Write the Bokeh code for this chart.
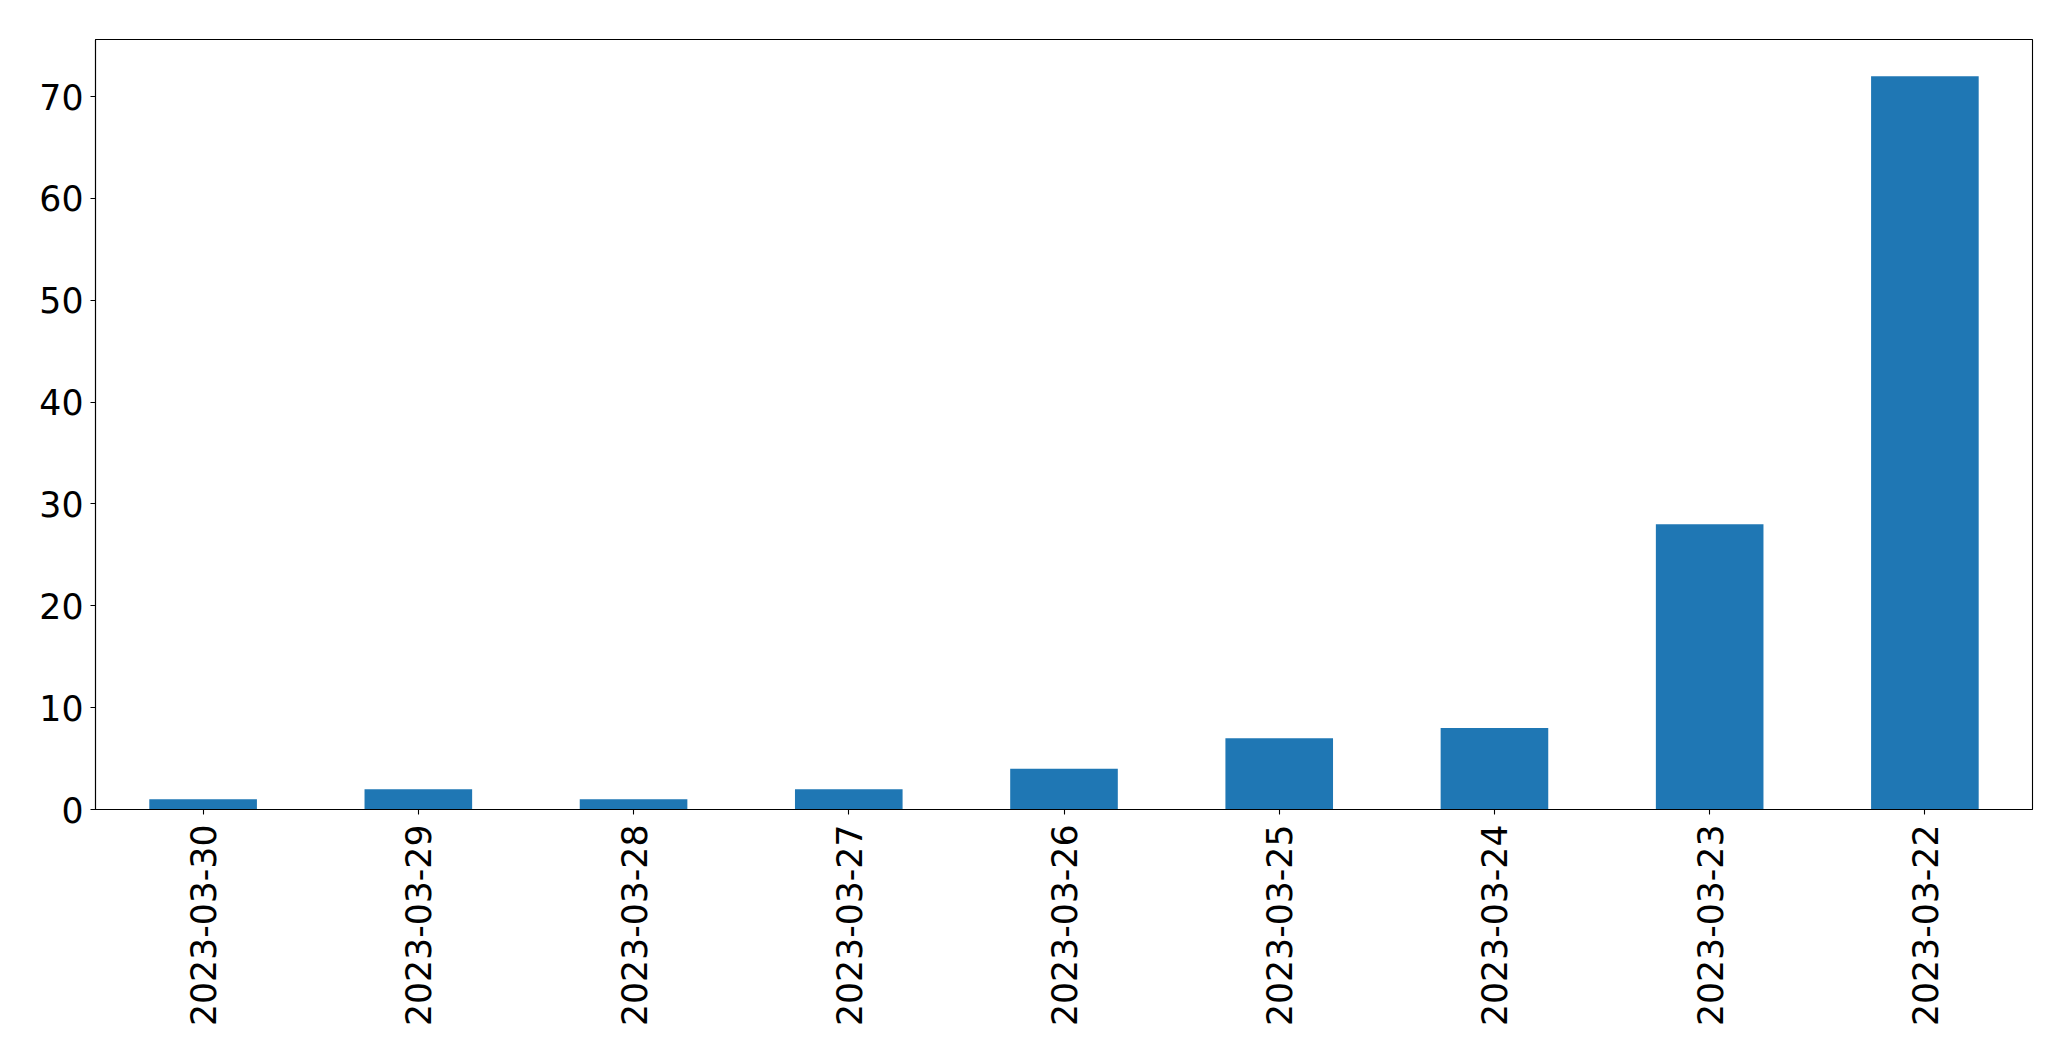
import math
from bokeh.plotting import figure
from bokeh.models import FixedTicker, Range1d, FactorRange, ColumnDataSource
from bokeh.embed import file_html
from bokeh.resources import INLINE

dates = ["2023-03-30", "2023-03-29", "2023-03-28", "2023-03-27", "2023-03-26",
         "2023-03-25", "2023-03-24", "2023-03-23", "2023-03-22"]
counts = [1, 2, 1, 2, 4, 7, 8, 28, 72]
y_ticks = [0, 10, 20, 30, 40, 50, 60, 70]

source = ColumnDataSource(data=dict(date=dates, count=counts))

p = figure(x_range=FactorRange(factors=dates, range_padding=0),
           y_range=Range1d(0, max(counts) * 1.05),
           frame_width=1937, frame_height=770,
           min_border_left=95, min_border_top=39, min_border_bottom=230,
           min_border_right=20,
           output_backend="svg", toolbar_location=None,
           background_fill_color="white", border_fill_color="white")

p.vbar(x="date", top="count", width=0.5, source=source,
       fill_color="#1f77b4", line_color=None)

p.xgrid.visible = False
p.ygrid.visible = False
p.outline_line_color = "black"
p.outline_line_width = 1.1

for ax in (p.xaxis[0], p.yaxis[0]):
    ax.axis_line_color = "black"
    ax.axis_line_width = 1.1
    ax.major_tick_line_color = "black"
    ax.major_tick_line_width = 1.1
    ax.major_tick_out = 5
    ax.major_tick_in = 0
    ax.minor_tick_line_color = None
    ax.major_label_text_font = "DejaVu Sans"
    ax.major_label_text_font_size = "34.7px"
    ax.major_label_text_color = "black"

p.yaxis.ticker = FixedTicker(ticks=y_ticks)
p.yaxis.major_label_standoff = 7
p.xaxis.major_label_orientation = math.pi / 2
p.xaxis.major_label_standoff = 10

open("out.html", "w").write(file_html(p, INLINE))
